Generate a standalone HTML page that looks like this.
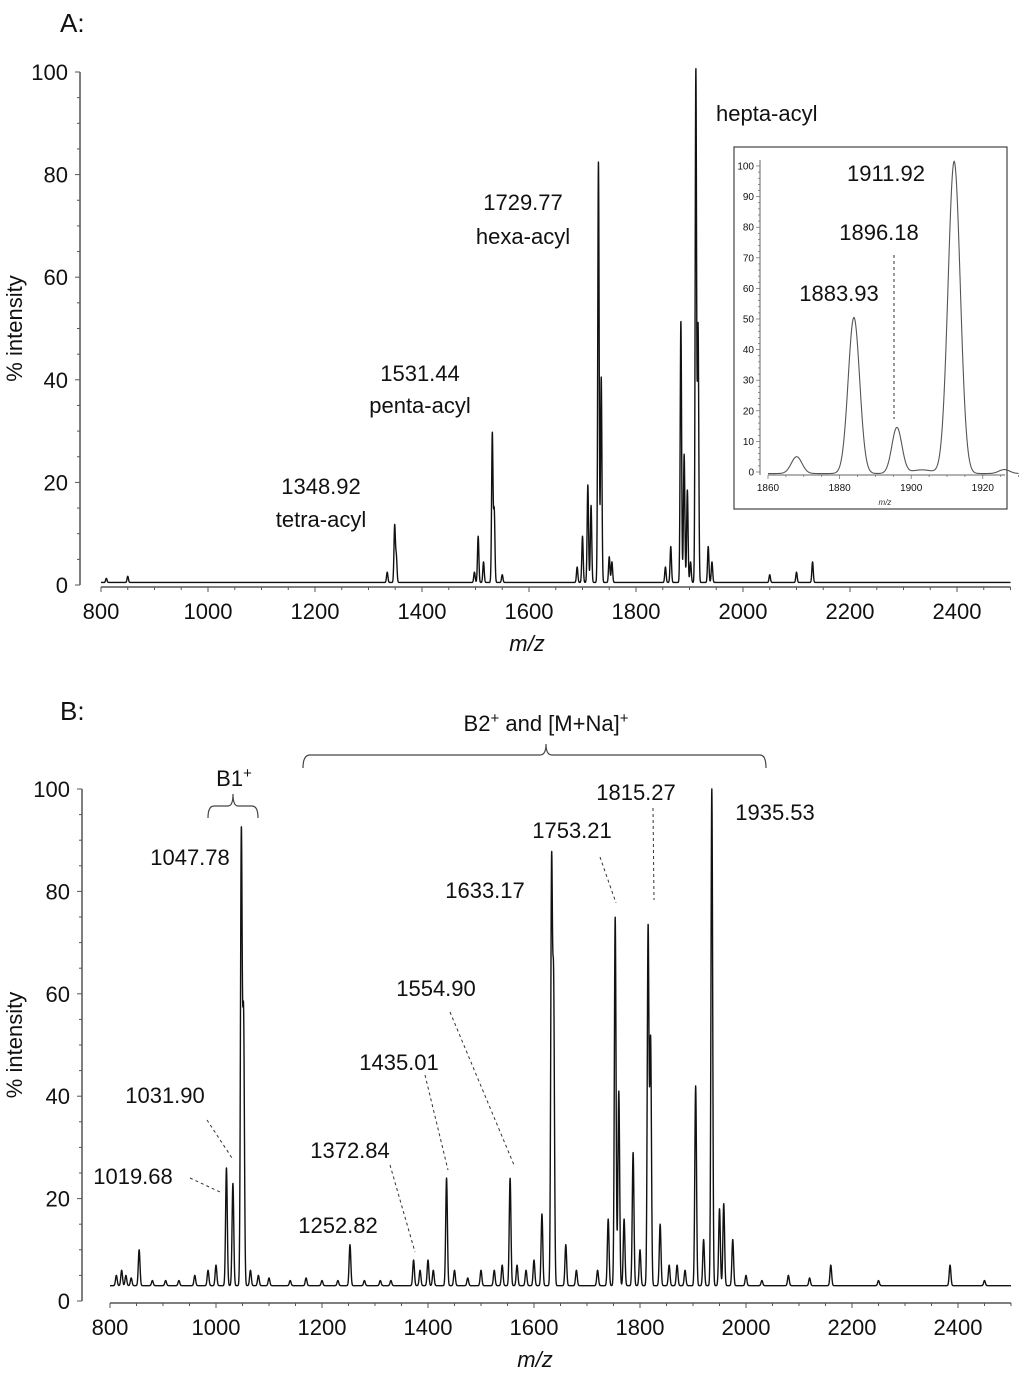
<!DOCTYPE html>
<html><head><meta charset="utf-8"><style>
body{margin:0;background:#fff}
svg{display:block;font-family:"Liberation Sans",Arial,sans-serif}
</style></head><body>
<svg id="fig" width="1024" height="1374" viewBox="0 0 1024 1374" xmlns="http://www.w3.org/2000/svg">
<g id="gA"></g>
<g id="gI"></g>
<g id="gB"></g>
</svg>
<script>
// Panel A data: peak m/z and % intensity
const peaksA_mz = [810,850,1335,1348.9,1352,1498,1505,1515,1531.4,1535,1550,1690,1700,1710,1716,1729.8,1735,1750,1755,1855,1865,1883.9,1890,1896,1902,1911.9,1916,1935,1942,2050,2100,2130];
const peaksA_int = [0.8,1.2,2,11,5,2,9,4,29,14,1.5,3,9,19,15,82,40,5,4,3,7,51,25,18,4,100,50,7,4,1.5,2,4];
const baselineA = 0.5;
// Inset data
const peaksI_mz = [1868,1884,1896,1903,1912,1926];
const peaksI_int = [5.5,51,15,1.2,102,1.3];
const peaksI_sd = [1.5,1.6,1.4,3,1.7,1.5];
// Panel B data
const peaksB_mz = [812,822,830,840,855,880,905,930,960,985,1000,1019.7,1031.9,1047.8,1052,1065,1080,1100,1140,1170,1200,1230,1252.8,1280,1310,1330,1372.8,1385,1400,1410,1435,1450,1475,1500,1525,1540,1554.9,1568,1585,1600,1615,1633.2,1637,1660,1680,1720,1740,1753.2,1760,1770,1787,1800,1815.3,1820,1838,1855,1870,1885,1905,1920,1935.5,1950,1958,1975,2000,2030,2080,2120,2160,2250,2385,2450];
const peaksB_int = [2,3,2,1.5,7,1,1,1,2,3,4,23,20,88,52,3,2,1.5,1,1.5,1,1,8,1,1,1,5,3,5,3,21,3,1.5,3,3,4,21,4,3,5,14,81,57,8,3,3,13,72,38,13,26,7,70,48,12,4,4,3,39,9,97,15,16,9,2,1,2,1.5,4,1,4,1];
const baselineB = 3;
const xTicks = [800,1000,1200,1400,1600,1800,2000,2200,2400];
const yTicks = [0,20,40,60,80,100];
const inXTicks = [1860,1880,1900,1920];
const inYTicks = [0,10,20,30,40,50,60,70,80,90,100];

const NS="http://www.w3.org/2000/svg";
function el(p,t,a,txt){const e=document.createElementNS(NS,t);for(const k in a)e.setAttribute(k,a[k]);if(txt!==undefined)e.textContent=txt;p.appendChild(e);return e;}

function spectrum(mz,ints,sdArr,sd,base,lo,hi,step){
  const pts=[];
  for(let m=lo;m<=hi;m+=step){
    let v=base;
    for(let i=0;i<mz.length;i++){const s=sdArr?sdArr[i]:sd;const d=(m-mz[i])/s;if(Math.abs(d)<6)v+=ints[i]*Math.exp(-0.5*d*d);}
    pts.push([m,v]);
  }
  return pts;
}

function panel(g,opt){
  const xs=m=>opt.x0+(m-800)*opt.kx, ys=v=>opt.y0-v*opt.ky;
  const ya=el(g,'line',{x1:opt.ax,y1:ys(100),x2:opt.ax,y2:opt.y0,stroke:'#555','stroke-width':1.5});
  
  for(let v=0;v<=100;v+=5){el(g,'line',{x1:opt.ax-(v%20?3:5),y1:ys(v),x2:opt.ax,y2:ys(v),stroke:'#555','stroke-width':1});}
  yTicks.forEach(v=>{const t=el(g,'text',{x:opt.ax-12,y:ys(v)+8,'text-anchor':'end','font-size':22,fill:'#111'},v);
    });
  const xa=el(g,'line',{x1:xs(800),y1:opt.xa,x2:xs(2500),y2:opt.xa,stroke:'#555','stroke-width':1.5});
  
  for(let m=800;m<=2500;m+=50){el(g,'line',{x1:xs(m),y1:opt.xa,x2:xs(m),y2:opt.xa+(m%200?3:5),stroke:'#555','stroke-width':1});}
  xTicks.forEach(m=>{const t=el(g,'text',{x:xs(m),y:opt.xa+32,'text-anchor':'middle','font-size':22,fill:'#111'},m);
    });
  const yt=el(g,'text',{transform:`translate(${opt.ytx},${(ys(100)+opt.y0)/2}) rotate(-90)`,'text-anchor':'middle','font-size':22,fill:'#111'},'% intensity');
  
  const xt=el(g,'text',{x:opt.xtx,y:opt.xa+64,'text-anchor':'middle','font-size':22,'font-style':'italic',fill:'#111'},'m/z');
  
  const pts=spectrum(opt.mz,opt.ints,null,opt.sd,opt.base,800,2500,0.25);
  const pl=el(g,'polyline',{points:pts.map(p=>xs(p[0]).toFixed(2)+','+ys(p[1]).toFixed(2)).join(' '),fill:'none',stroke:'#111','stroke-width':1.4,'stroke-linejoin':'round'});
  
}

const gA=document.getElementById('gA');
panel(gA,{x0:101,kx:0.535,y0:585,ky:5.13,ax:80,xa:587,ytx:22,xtx:527,mz:peaksA_mz,ints:peaksA_int,sd:1.3,base:baselineA});
const gB=document.getElementById('gB');
panel(gB,{x0:110,kx:0.53,y0:1301,ky:5.12,ax:82,xa:1303,ytx:22,xtx:535,mz:peaksB_mz,ints:peaksB_int,sd:1.6,base:baselineB});

function txt(g,x,y,s,name,size,anchor){const t=el(g,'text',{x:x,y:y,'text-anchor':anchor||'middle','font-size':size||22,fill:'#111'},s);
  return t;}
function dash(g,x1,y1,x2,y2,name){const l=el(g,'line',{x1,y1,x2,y2,stroke:'#333','stroke-width':1,'stroke-dasharray':'3,3'});
  }

txt(gA,60,32,'A:','panel-a-label',26,'start');
txt(gA,716,121,'hepta-acyl','label-hepta-acyl',22,'start');
txt(gA,523,210,'1729.77','label-1729');txt(gA,523,244,'hexa-acyl','label-hexa-acyl');
txt(gA,420,381,'1531.44','label-1531');txt(gA,420,413,'penta-acyl','label-penta-acyl');
txt(gA,321,494,'1348.92','label-1348');txt(gA,321,527,'tetra-acyl','label-tetra-acyl');

// Inset
const gI=document.getElementById('gI');
const box=el(gI,'rect',{x:734,y:147,width:273,height:362,fill:'#fff',stroke:'#444','stroke-width':1.2});

const ix=m=>768+(m-1860)*3.58, iy=v=>472-v*3.06;
el(gI,'line',{x1:760,y1:iy(102),x2:760,y2:iy(0)+3,stroke:'#666','stroke-width':1});
for(let v=0;v<=100;v+=2)el(gI,'line',{x1:v%10?758:756,y1:iy(v),x2:760,y2:iy(v),stroke:'#666','stroke-width':0.7});
inYTicks.forEach(v=>txt(gI,754,iy(v)+3.5,v,'inset-y-tick-label',10,'end'));
el(gI,'line',{x1:ix(1860),y1:475,x2:1005,y2:475,stroke:'#666','stroke-width':1});
for(let m=1860;m<=1930;m+=5)el(gI,'line',{x1:ix(m),y1:475,x2:ix(m),y2:m%20?477:479,stroke:'#666','stroke-width':0.7});
inXTicks.forEach(m=>txt(gI,ix(m),491,m,'inset-x-tick-label',10));
const it=el(gI,'text',{x:885,y:505,'text-anchor':'middle','font-size':8,'font-style':'italic',fill:'#333'},'m/z');

const ipts=spectrum(peaksI_mz,peaksI_int,peaksI_sd,0,-0.5,1860,1930,0.1);
const ipl=el(gI,'polyline',{points:ipts.map(p=>ix(p[0]).toFixed(2)+','+iy(p[1]).toFixed(2)).join(' '),fill:'none',stroke:'#555','stroke-width':1.1});

txt(gI,886,181,'1911.92','inset-label-1911');
txt(gI,879,240,'1896.18','inset-label-1896');
txt(gI,839,301,'1883.93','inset-label-1883');
dash(gI,894,255,894,419,'inset-leader-1896');

// Panel B annotations
txt(gB,60,720,'B:','panel-b-label',26,'start');
const b2=el(gB,'text',{x:546,y:731,'text-anchor':'middle','font-size':22,fill:'#111'});

b2.innerHTML='B2<tspan dy="-8" font-size="15">+</tspan><tspan dy="8"> and [M+Na]</tspan><tspan dy="-8" font-size="15">+</tspan>';
const b1=el(gB,'text',{x:234,y:786,'text-anchor':'middle','font-size':22,fill:'#111'});

b1.innerHTML='B1<tspan dy="-8" font-size="15">+</tspan>';
const br1=el(gB,'path',{d:'M303,768 Q303,755 310,755 L540,755 Q546,755 546,744 Q546,755 552,755 L760,755 Q766,755 766,768',fill:'none',stroke:'#444','stroke-width':1.2});

const br2=el(gB,'path',{d:'M208,818 Q208,806 214,806 L228,806 Q233,806 233,794 Q233,806 238,806 L252,806 Q258,806 258,818',fill:'none',stroke:'#444','stroke-width':1.2});

txt(gB,190,865,'1047.78','label-1047');
txt(gB,485,898,'1633.17','label-1633');
txt(gB,572,838,'1753.21','label-1753');
txt(gB,636,800,'1815.27','label-1815');
txt(gB,775,820,'1935.53','label-1935');
txt(gB,436,996,'1554.90','label-1554');
txt(gB,399,1070,'1435.01','label-1435');
txt(gB,350,1158,'1372.84','label-1372');
txt(gB,338,1233,'1252.82','label-1252');
txt(gB,165,1103,'1031.90','label-1031');
txt(gB,133,1184,'1019.68','label-1019');
dash(gB,207,1120,232,1158,'leader-1031');
dash(gB,190,1178,220,1192,'leader-1019');
dash(gB,390,1165,415,1252,'leader-1372');
dash(gB,425,1075,448,1170,'leader-1435');
dash(gB,450,1012,514,1165,'leader-1554');
dash(gB,600,857,616,903,'leader-1753');
dash(gB,653,808,654,900,'leader-1815');
</script>
</body></html>
